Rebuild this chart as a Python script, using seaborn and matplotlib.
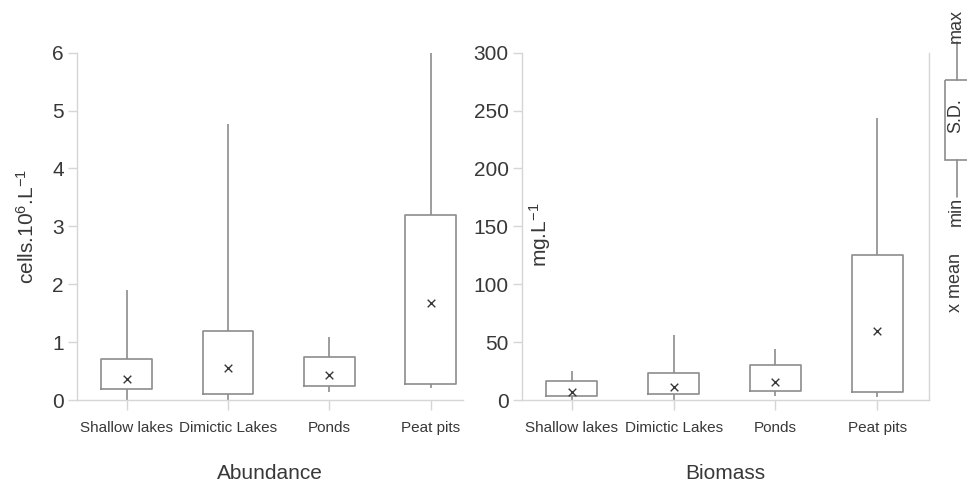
import numpy as np
import pandas as pd
import matplotlib
matplotlib.use("Agg")
import matplotlib.pyplot as plt
from matplotlib.patches import Rectangle
import seaborn as sns

categories = ["Shallow lakes", "Dimictic Lakes", "Ponds", "Peat pits"]

# abundance (cells.10^6.L^-1): min, mean-SD, mean, mean+SD, max
abund_min = [0.0, 0.0, 0.13, 0.2]
abund_lo = [0.19, 0.1, 0.24, 0.27]
abund_mean = [0.37, 0.56, 0.43, 1.67]
abund_hi = [0.70, 1.19, 0.75, 3.19]
abund_max = [1.9, 4.76, 1.08, 6.0]

# biomass (mg.L^-1)
bio_min = [0.0, 0.0, 3.5, 3.0]
bio_lo = [3.8, 5.2, 8.0, 6.9]
bio_mean = [7.2, 11.5, 15.5, 59.6]
bio_hi = [16.4, 23.6, 30.0, 125.0]
bio_max = [25.0, 56.0, 44.0, 244.0]

TEXT = "#383838"
EDGE = "#8c8c8c"
SPINE = "#d6d6d6"

sns.set_style("ticks")
plt.rcParams["font.family"] = ["Liberation Sans", "DejaVu Sans"]
plt.rcParams["mathtext.fontset"] = "custom"
plt.rcParams["mathtext.rm"] = "Liberation Sans"
plt.rcParams["mathtext.default"] = "regular"


def long_table(mins, los, means, his, maxs):
    # five points per category so that the quartiles fall on mean-SD / mean+SD
    rows = []
    for i, c in enumerate(categories):
        for v in (mins[i], los[i], means[i], his[i], maxs[i]):
            rows.append({"cat": c, "val": v})
    return pd.DataFrame(rows)


def draw(ax, mins, los, means, his, maxs):
    df = long_table(mins, los, means, his, maxs)
    sns.boxplot(data=df, x="cat", y="val", order=categories, ax=ax,
                whis=(0, 100), width=0.5, fill=False, color=EDGE,
                linecolor=EDGE, linewidth=1.2, showcaps=False,
                showfliers=False, medianprops={"visible": False})
    sns.stripplot(x=categories, y=means, order=categories, ax=ax,
                  marker="x", jitter=False, color=TEXT, size=5.5, linewidth=1.0)
    for s in ["left", "bottom", "right"]:
        ax.spines[s].set_color(SPINE)
        ax.spines[s].set_linewidth(1.0)
    ax.spines["top"].set_visible(False)
    ax.tick_params(axis="y", colors=SPINE, labelcolor=TEXT, labelsize=15,
                   length=6.5, width=1.0, pad=3)
    ax.tick_params(axis="x", colors=SPINE, labelcolor=TEXT, labelsize=11,
                   length=7, width=1.0, pad=8)


fig = plt.figure(figsize=(9.67, 4.84), dpi=100)
W, H = 967, 484
ax1 = fig.add_axes([77 / W, 1 - 400 / H, 386 / W, 347.3 / H])
ax2 = fig.add_axes([522 / W, 1 - 400 / H, 407 / W, 347.3 / H])

draw(ax1, abund_min, abund_lo, abund_mean, abund_hi, abund_max)
draw(ax2, bio_min, bio_lo, bio_mean, bio_hi, bio_max)

ax1.spines["right"].set_visible(False)
ax1.set_ylim(0, 6)
ax1.set_yticks(range(0, 7))
ax1.set_xlim(-0.49, 3.32)
ax1.set_ylabel(r"cells.10$^{6}$.L$^{-1}$", fontsize=15, color=TEXT, labelpad=10)
ax1.set_xlabel("Abundance", fontsize=15, color=TEXT, labelpad=21)

ax2.set_ylim(0, 300)
ax2.set_yticks(range(0, 301, 50))
ax2.set_xlim(-0.49, 3.51)
ax2.set_ylabel(r"mg.L$^{-1}$", fontsize=15, color=TEXT)
ax2.yaxis.set_label_coords(0.075, 0.475)
ax2.set_xlabel("Biomass", fontsize=15, color=TEXT, labelpad=21)

# key on the right edge
lg = fig.add_axes([0, 0, 1, 1], facecolor="none")
lg.set_xlim(0, W)
lg.set_ylim(H, 0)
lg.axis("off")
lg.add_patch(Rectangle((945, 80), 26, 80, fill=False, edgecolor=EDGE, lw=1.2))
lg.plot([957, 957], [42, 80], color=EDGE, lw=1.2)
lg.plot([957, 957], [160, 197], color=EDGE, lw=1.2)
kw = dict(rotation=90, ha="center", va="center", fontsize=13, color=TEXT)
lg.text(956, 26, "max", **kw)
lg.text(956, 116, "S.D.", **kw)
lg.text(956, 211, "min", **kw)
lg.text(956, 282, "x mean", **kw)

fig.savefig("out.png", dpi=100)
